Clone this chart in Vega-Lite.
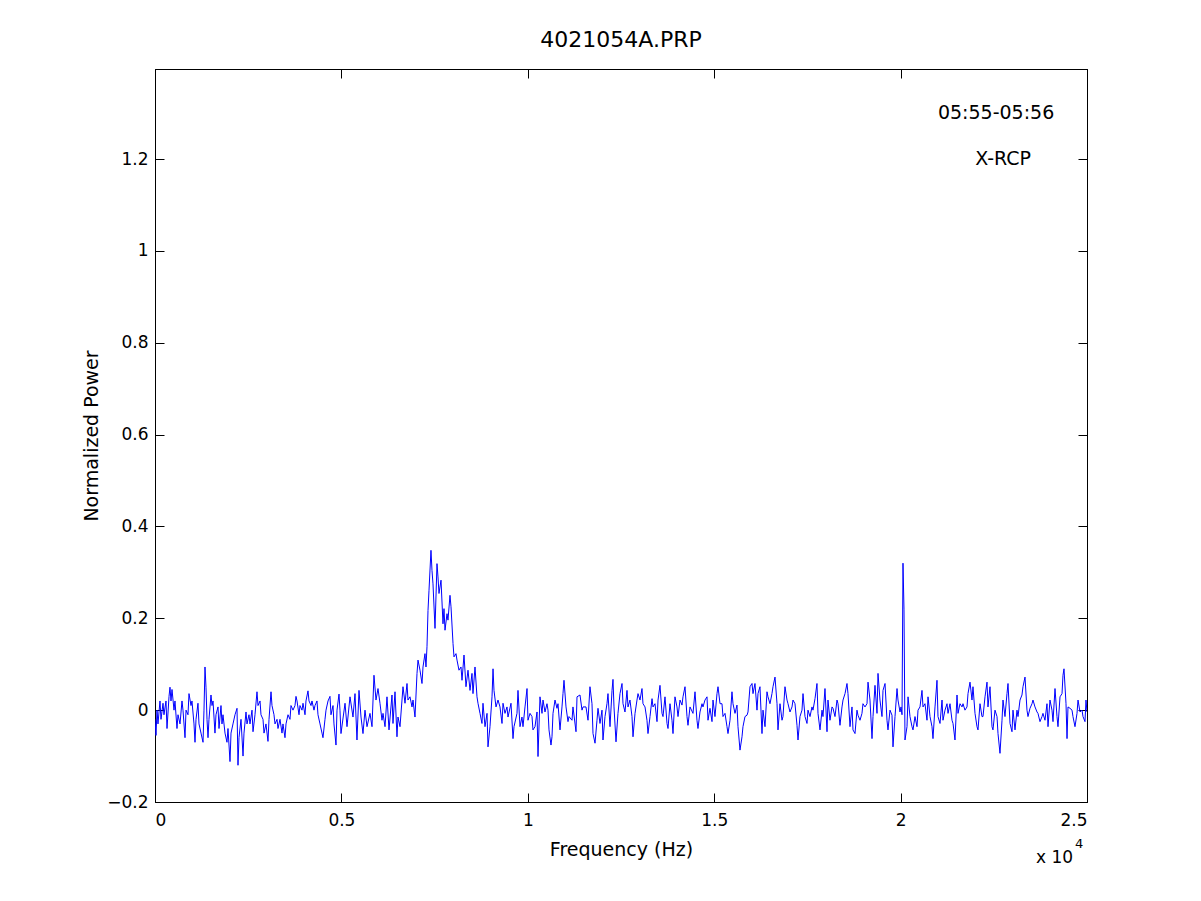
{
  "$schema": "https://vega.github.io/schema/vega-lite/v6.json",
  "autosize": "none",
  "width": 932,
  "height": 733,
  "padding": {"left": 155, "top": 69, "right": 114, "bottom": 99},
  "background": "white",
  "title": {"text": "4021054A.PRP", "fontSize": 22, "fontWeight": "normal", "font": "DejaVu Sans", "color": "black", "offset": 17},
  "layer": [
    {
      "data": {"values": [
        {"f":0,"p":-0.02},{"f":27,"p":-0.055},{"f":54,"p":0.0},{"f":80,"p":-0.03},{"f":134,"p":0.02},{"f":161,"p":-0.02},{"f":215,"p":0.015},{"f":241,"p":-0.01},{"f":295,"p":0.02},{"f":322,"p":-0.04},
        {"f":376,"p":0.03},{"f":402,"p":0.05},{"f":429,"p":0.02},{"f":456,"p":0.045},{"f":510,"p":0.0},{"f":536,"p":0.02},{"f":590,"p":-0.04},{"f":617,"p":-0.01},{"f":671,"p":-0.03},{"f":724,"p":0.02},
        {"f":751,"p":0.0},{"f":805,"p":-0.06},{"f":832,"p":0.0},{"f":885,"p":-0.01},{"f":912,"p":0.036},{"f":966,"p":0.01},{"f":992,"p":0.02},{"f":1046,"p":-0.03},{"f":1073,"p":-0.07},{"f":1100,"p":-0.02},
        {"f":1153,"p":0.015},{"f":1180,"p":-0.03},{"f":1234,"p":-0.05},{"f":1288,"p":-0.07},{"f":1314,"p":0.0},{"f":1341,"p":0.094},{"f":1368,"p":0.05},{"f":1395,"p":-0.02},{"f":1422,"p":-0.06},{"f":1448,"p":-0.02},
        {"f":1502,"p":0.033},{"f":1529,"p":0.01},{"f":1556,"p":0.02},{"f":1609,"p":-0.05},{"f":1636,"p":-0.01},{"f":1690,"p":0.007},{"f":1717,"p":-0.04},{"f":1770,"p":0.01},{"f":1797,"p":-0.03},{"f":1824,"p":-0.01},
        {"f":1878,"p":-0.05},{"f":1931,"p":-0.07},{"f":1958,"p":-0.04},{"f":2012,"p":-0.112},{"f":2039,"p":-0.05},{"f":2092,"p":-0.03},{"f":2146,"p":-0.01},{"f":2200,"p":0.004},{"f":2226,"p":-0.12},{"f":2253,"p":-0.06},
        {"f":2307,"p":-0.02},{"f":2361,"p":-0.1},{"f":2387,"p":-0.05},{"f":2441,"p":-0.004},{"f":2468,"p":-0.03},{"f":2521,"p":-0.01},{"f":2548,"p":-0.03},{"f":2602,"p":0.0},{"f":2629,"p":-0.047},{"f":2682,"p":-0.01},
        {"f":2736,"p":0.04},{"f":2763,"p":0.01},{"f":2817,"p":0.02},{"f":2843,"p":-0.01},{"f":2897,"p":-0.02},{"f":2924,"p":-0.05},{"f":2977,"p":-0.03},{"f":3031,"p":-0.068},{"f":3058,"p":-0.02},{"f":3112,"p":0.04},
        {"f":3138,"p":0.01},{"f":3192,"p":-0.01},{"f":3219,"p":-0.03},{"f":3273,"p":-0.02},{"f":3299,"p":-0.04},{"f":3353,"p":-0.02},{"f":3407,"p":-0.05},{"f":3433,"p":-0.03},{"f":3487,"p":-0.06},{"f":3514,"p":-0.03},
        {"f":3568,"p":-0.01},{"f":3621,"p":-0.02},{"f":3648,"p":0.01},{"f":3702,"p":0.0},{"f":3755,"p":0.01},{"f":3782,"p":0.03},{"f":3809,"p":0.02},{"f":3863,"p":-0.01},{"f":3889,"p":0.01},{"f":3943,"p":0.0},
        {"f":3970,"p":0.015},{"f":4024,"p":-0.01},{"f":4050,"p":0.02},{"f":4104,"p":0.042},{"f":4131,"p":0.02},{"f":4185,"p":0.01},{"f":4211,"p":0.02},{"f":4265,"p":0.0},{"f":4292,"p":0.01},{"f":4345,"p":0.02},
        {"f":4372,"p":-0.01},{"f":4426,"p":-0.03},{"f":4480,"p":-0.05},{"f":4506,"p":-0.06},{"f":4560,"p":-0.02},{"f":4587,"p":0.0},{"f":4641,"p":0.02},{"f":4694,"p":0.03},{"f":4721,"p":-0.01},{"f":4775,"p":0.01},
        {"f":4801,"p":-0.03},{"f":4855,"p":-0.076},{"f":4882,"p":0.0},{"f":4936,"p":0.035},
        {"f":4962,"p":0.0},{"f":4989,"p":-0.051},{"f":5097,"p":0.015},{"f":5150,"p":-0.036},{"f":5231,"p":0.029},{"f":5311,"p":-0.015},{"f":5365,"p":0.036},{"f":5418,"p":-0.065},{"f":5472,"p":0.043},{"f":5526,"p":-0.015},
        {"f":5579,"p":-0.051},{"f":5633,"p":0.0},{"f":5687,"p":-0.036},{"f":5767,"p":-0.007},{"f":5821,"p":-0.036},{"f":5874,"p":0.076},{"f":5928,"p":0.022},{"f":5982,"p":0.047},{"f":6035,"p":0.015},{"f":6089,"p":-0.022},
        {"f":6116,"p":-0.007},{"f":6170,"p":-0.036},{"f":6223,"p":0.029},{"f":6277,"p":-0.043},{"f":6357,"p":0.033},{"f":6384,"p":-0.029},{"f":6438,"p":0.04},{"f":6491,"p":-0.058},{"f":6518,"p":-0.015},{"f":6572,"p":-0.036},
        {"f":6652,"p":0.051},{"f":6706,"p":0.015},{"f":6760,"p":0.058},{"f":6786,"p":0.022},{"f":6840,"p":0.029},{"f":6894,"p":0.007},{"f":6921,"p":0.022},{"f":6974,"p":-0.015},{"f":7028,"p":0.08},{"f":7055,"p":0.109},
        {"f":7108,"p":0.087},{"f":7162,"p":0.058},{"f":7189,"p":0.094},{"f":7242,"p":0.123},{"f":7269,"p":0.094},{"f":7296,"p":0.138},{"f":7323,"p":0.217},{"f":7350,"p":0.261},{"f":7403,"p":0.348},{"f":7430,"p":0.304},
        {"f":7457,"p":0.275},{"f":7511,"p":0.178},{"f":7564,"p":0.319},{"f":7591,"p":0.29},{"f":7618,"p":0.254},{"f":7672,"p":0.283},{"f":7725,"p":0.188},{"f":7752,"p":0.221},{"f":7779,"p":0.174},{"f":7833,"p":0.21},
        {"f":7859,"p":0.196},{"f":7913,"p":0.25},{"f":7940,"p":0.225},{"f":7994,"p":0.145},{"f":8020,"p":0.116},{"f":8074,"p":0.123},{"f":8101,"p":0.109},{"f":8154,"p":0.087},{"f":8208,"p":0.094},{"f":8235,"p":0.065},
        {"f":8289,"p":0.12},{"f":8342,"p":0.051},{"f":8396,"p":0.087},{"f":8450,"p":0.043},{"f":8503,"p":0.08},{"f":8530,"p":0.036},{"f":8584,"p":0.094},{"f":8637,"p":0.029},{"f":8664,"p":0.015},{"f":8718,"p":-0.007},
        {"f":8771,"p":-0.029},{"f":8798,"p":0.015},{"f":8852,"p":-0.036},{"f":8906,"p":-0.007},{"f":8932,"p":-0.08},{"f":8986,"p":-0.036},{"f":9040,"p":0.029},{"f":9067,"p":0.09},{"f":9093,"p":0.043},{"f":9147,"p":0.007},
        {"f":9201,"p":0.022},{"f":9254,"p":0.007},{"f":9308,"p":-0.029},{"f":9335,"p":0.015},{"f":9388,"p":-0.007},{"f":9442,"p":0.007},{"f":9469,"p":-0.015},{"f":9549,"p":0.015},{"f":9603,"p":-0.062},{"f":9630,"p":-0.036},
        {"f":9710,"p":-0.007},{"f":9737,"p":0.043},{"f":9791,"p":-0.036},{"f":9844,"p":-0.015},{"f":9871,"p":-0.036},{"f":9925,"p":0.007},{"f":9979,"p":0.047},{"f":10005,"p":-0.022},
        {"f":10059,"p":-0.007},{"f":10113,"p":-0.014},{"f":10139,"p":-0.043},{"f":10193,"p":-0.036},{"f":10247,"p":-0.004},{"f":10274,"p":-0.101},{"f":10327,"p":0.029},{"f":10381,"p":-0.007},{"f":10408,"p":0.022},{"f":10461,"p":-0.004},
        {"f":10515,"p":0.014},{"f":10542,"p":0.0},{"f":10569,"p":-0.043},{"f":10622,"p":-0.076},{"f":10649,"p":-0.058},{"f":10676,"p":-0.007},{"f":10730,"p":0.022},{"f":10783,"p":0.004},{"f":10810,"p":0.014},{"f":10864,"p":-0.043},
        {"f":10917,"p":0.007},{"f":10944,"p":0.036},{"f":10971,"p":0.065},{"f":11025,"p":0.007},{"f":11078,"p":-0.025},{"f":11105,"p":-0.014},{"f":11186,"p":-0.022},{"f":11212,"p":0.007},{"f":11293,"p":-0.047},{"f":11320,"p":0.029},
        {"f":11400,"p":0.033},{"f":11454,"p":0.0},{"f":11481,"p":0.007},{"f":11561,"p":0.007},{"f":11615,"p":-0.022},{"f":11668,"p":0.051},{"f":11722,"p":0.014},{"f":11749,"p":-0.051},{"f":11803,"p":-0.072},{"f":11856,"p":-0.022},
        {"f":11883,"p":0.004},{"f":11937,"p":-0.029},{"f":11990,"p":0.0},{"f":12017,"p":-0.065},{"f":12071,"p":-0.014},{"f":12124,"p":0.014},{"f":12151,"p":0.036},{"f":12205,"p":-0.036},{"f":12259,"p":0.043},{"f":12285,"p":0.067},
        {"f":12312,"p":0.007},{"f":12366,"p":-0.069},{"f":12419,"p":-0.007},{"f":12473,"p":0.036},{"f":12527,"p":0.058},{"f":12554,"p":0.014},{"f":12607,"p":-0.004},{"f":12661,"p":0.043},{"f":12688,"p":0.007},{"f":12741,"p":0.022},
        {"f":12795,"p":-0.014},{"f":12822,"p":-0.058},{"f":12876,"p":-0.007},{"f":12929,"p":0.022},{"f":12956,"p":0.036},{"f":13010,"p":0.022},{"f":13063,"p":0.047},{"f":13090,"p":0.014},{"f":13144,"p":0.007},{"f":13197,"p":-0.022},
        {"f":13224,"p":-0.051},{"f":13278,"p":-0.014},{"f":13332,"p":0.025},{"f":13358,"p":0.007},{"f":13412,"p":0.014},{"f":13466,"p":-0.025},{"f":13493,"p":0.022},{"f":13546,"p":0.054},{"f":13600,"p":-0.007},{"f":13627,"p":-0.014},
        {"f":13680,"p":0.029},{"f":13734,"p":-0.029},{"f":13761,"p":-0.04},{"f":13814,"p":0.014},{"f":13868,"p":-0.022},{"f":13895,"p":-0.051},{"f":13948,"p":0.029},{"f":14002,"p":0.007},{"f":14029,"p":-0.014},{"f":14083,"p":0.022},
        {"f":14136,"p":0.011},{"f":14163,"p":0.029},{"f":14217,"p":0.051},{"f":14270,"p":-0.014},{"f":14297,"p":-0.033},{"f":14351,"p":0.007},{"f":14431,"p":-0.007},{"f":14485,"p":0.04},{"f":14538,"p":-0.022},{"f":14565,"p":-0.04},
        {"f":14619,"p":-0.004},{"f":14673,"p":0.014},{"f":14699,"p":0.007},{"f":14753,"p":0.022},{"f":14807,"p":0.029},{"f":14834,"p":-0.022},{"f":14887,"p":0.004},{"f":14941,"p":-0.025},{"f":14968,"p":0.022},{"f":15021,"p":-0.014},
        {"f":15075,"p":0.036},{"f":15102,"p":0.051},{"f":15156,"p":0.014},
        {"f":15209,"p":0.014},{"f":15236,"p":-0.014},{"f":15290,"p":-0.007},{"f":15343,"p":-0.036},{"f":15370,"p":-0.051},{"f":15424,"p":-0.022},{"f":15477,"p":0.04},{"f":15504,"p":0.014},{"f":15558,"p":-0.007},{"f":15611,"p":0.011},
        {"f":15638,"p":-0.036},{"f":15692,"p":-0.087},{"f":15746,"p":-0.058},{"f":15772,"p":-0.036},{"f":15826,"p":-0.014},{"f":15880,"p":-0.011},{"f":15907,"p":-0.004},{"f":15960,"p":0.051},{"f":16014,"p":0.058},{"f":16041,"p":0.036},
        {"f":16094,"p":0.058},{"f":16148,"p":0.0},{"f":16175,"p":0.036},{"f":16228,"p":0.051},{"f":16282,"p":-0.051},{"f":16309,"p":0.0},{"f":16363,"p":-0.036},{"f":16416,"p":0.04},{"f":16443,"p":0.029},{"f":16497,"p":0.014},
        {"f":16550,"p":0.036},{"f":16577,"p":0.051},{"f":16631,"p":0.072},{"f":16685,"p":0.014},{"f":16711,"p":-0.043},{"f":16765,"p":0.014},{"f":16819,"p":-0.022},{"f":16845,"p":-0.014},{"f":16899,"p":0.051},{"f":16953,"p":0.022},
        {"f":16980,"p":0.014},{"f":17033,"p":-0.004},{"f":17087,"p":0.007},{"f":17114,"p":0.022},{"f":17167,"p":0.014},{"f":17221,"p":-0.033},{"f":17248,"p":-0.065},{"f":17301,"p":-0.014},{"f":17355,"p":0.0},{"f":17382,"p":0.036},
        {"f":17436,"p":-0.014},{"f":17489,"p":-0.029},{"f":17516,"p":0.0},{"f":17570,"p":-0.014},{"f":17623,"p":0.007},{"f":17650,"p":0.0},{"f":17704,"p":0.025},{"f":17757,"p":0.058},{"f":17784,"p":-0.007},{"f":17838,"p":-0.043},
        {"f":17892,"p":0.0},{"f":17918,"p":-0.014},{"f":17972,"p":0.047},{"f":18026,"p":-0.047},{"f":18052,"p":0.022},{"f":18106,"p":-0.022},{"f":18160,"p":0.007},{"f":18187,"p":0.004},{"f":18240,"p":-0.014},{"f":18294,"p":0.022},
        {"f":18321,"p":0.014},{"f":18374,"p":-0.033},{"f":18428,"p":0.007},{"f":18455,"p":0.022},{"f":18509,"p":0.036},{"f":18562,"p":0.058},{"f":18589,"p":0.036},{"f":18643,"p":-0.036},{"f":18696,"p":0.007},{"f":18723,"p":-0.043},
        {"f":18777,"p":-0.051},{"f":18830,"p":0.0},{"f":18857,"p":-0.011},{"f":18911,"p":-0.022},{"f":18964,"p":-0.007},{"f":18991,"p":0.014},{"f":19045,"p":0.007},{"f":19099,"p":0.014},{"f":19126,"p":0.061},{"f":19179,"p":0.022},
        {"f":19233,"p":-0.062},{"f":19260,"p":-0.014},{"f":19313,"p":0.054},{"f":19367,"p":-0.007},{"f":19394,"p":0.08},{"f":19447,"p":0.022},{"f":19501,"p":-0.014},{"f":19528,"p":0.043},{"f":19582,"p":0.058},{"f":19635,"p":-0.022},
        {"f":19662,"p":-0.043},{"f":19716,"p":0.0},{"f":19769,"p":-0.011},{"f":19796,"p":-0.08},{"f":19850,"p":-0.014},{"f":19904,"p":0.047},{"f":19930,"p":0.022},{"f":19984,"p":-0.004},{"f":20011,"p":0.007},{"f":20038,"p":-0.01},
        {"f":20064,"p":0.32},{"f":20091,"p":0.22},{"f":20118,"p":-0.065},
        {"f":20172,"p":-0.036},{"f":20199,"p":0.029},{"f":20252,"p":-0.014},{"f":20306,"p":-0.036},{"f":20333,"p":-0.043},{"f":20386,"p":-0.014},{"f":20440,"p":-0.036},{"f":20467,"p":0.0},{"f":20520,"p":0.007},{"f":20574,"p":0.043},
        {"f":20601,"p":0.007},{"f":20654,"p":0.014},{"f":20708,"p":-0.022},{"f":20735,"p":0.029},{"f":20789,"p":-0.014},{"f":20842,"p":-0.036},{"f":20869,"p":-0.062},{"f":20923,"p":0.007},{"f":20976,"p":0.065},{"f":21003,"p":-0.014},
        {"f":21057,"p":-0.029},{"f":21111,"p":0.022},{"f":21137,"p":-0.022},{"f":21191,"p":0.0},{"f":21245,"p":0.014},{"f":21272,"p":-0.007},{"f":21325,"p":0.014},{"f":21379,"p":-0.022},{"f":21406,"p":-0.029},{"f":21459,"p":-0.065},
        {"f":21513,"p":0.033},{"f":21540,"p":-0.007},{"f":21593,"p":0.014},{"f":21647,"p":0.007},{"f":21674,"p":0.014},{"f":21727,"p":0.0},{"f":21781,"p":0.007},{"f":21808,"p":0.036},{"f":21862,"p":0.061},{"f":21915,"p":0.022},
        {"f":21942,"p":0.051},{"f":21996,"p":-0.007},{"f":22049,"p":-0.036},{"f":22076,"p":-0.043},{"f":22130,"p":0.014},{"f":22183,"p":-0.014},{"f":22210,"p":-0.014},{"f":22264,"p":0.029},{"f":22318,"p":0.061},{"f":22344,"p":0.007},
        {"f":22398,"p":0.051},{"f":22452,"p":-0.036},{"f":22478,"p":-0.043},{"f":22532,"p":0.0},{"f":22586,"p":-0.014},{"f":22613,"p":-0.051},{"f":22666,"p":-0.094},{"f":22720,"p":-0.022},{"f":22747,"p":0.022},{"f":22800,"p":-0.014},
        {"f":22854,"p":0.036},{"f":22881,"p":0.058},{"f":22935,"p":-0.029},{"f":22988,"p":-0.047},{"f":23015,"p":0.0},{"f":23069,"p":-0.043},{"f":23122,"p":0.0},{"f":23149,"p":-0.014},{"f":23203,"p":0.022},{"f":23256,"p":0.033},
        {"f":23283,"p":0.051},{"f":23337,"p":0.072},{"f":23390,"p":0.0},{"f":23417,"p":-0.014},{"f":23471,"p":0.004},{"f":23525,"p":0.014},{"f":23551,"p":0.022},{"f":23605,"p":0.007},{"f":23659,"p":-0.004},{"f":23685,"p":-0.007},
        {"f":23739,"p":-0.025},{"f":23793,"p":-0.014},{"f":23819,"p":-0.007},{"f":23873,"p":-0.022},{"f":23927,"p":0.014},{"f":23954,"p":-0.036},{"f":24007,"p":0.022},{"f":24061,"p":0.0},{"f":24088,"p":-0.025},{"f":24142,"p":0.047},
        {"f":24195,"p":-0.014},{"f":24222,"p":-0.036},{"f":24276,"p":0.029},{"f":24330,"p":0.036},{"f":24356,"p":0.076},{"f":24383,"p":0.09},{"f":24437,"p":0.014},{"f":24464,"p":-0.062},{"f":24490,"p":0.007},{"f":24544,"p":0.004},
        {"f":24598,"p":0.0},{"f":24624,"p":-0.014},{"f":24678,"p":-0.036},{"f":24732,"p":-0.007},{"f":24759,"p":0.022},{"f":24812,"p":-0.004},{"f":24866,"p":0.0},{"f":24893,"p":-0.014},{"f":24946,"p":-0.025},{"f":24973,"p":0.022},
        {"f":25000,"p":-0.004}
      ]},
      "mark": {"type": "line", "color": "#0000ff", "strokeWidth": 1, "clip": true},
      "encoding": {
        "x": {
          "field": "f", "type": "quantitative",
          "scale": {"domain": [0, 25000], "nice": false, "zero": false},
          "axis": {"orient": "bottom", "title": "Frequency (Hz)", "values": [0, 5000, 10000, 15000, 20000, 25000], "labelExpr": "format(datum.value / 10000, '~g')", "labelPadding": 19, "titlePadding": 12}
        },
        "y": {
          "field": "p", "type": "quantitative",
          "scale": {"domain": [-0.2, 1.396], "nice": false, "zero": false},
          "axis": {"orient": "left", "title": "Normalized Power", "values": [-0.2, 0, 0.2, 0.4, 0.6, 0.8, 1, 1.2], "format": "~g", "labelPadding": 16, "titlePadding": 5}
        }
      }
    },
    {
      "data": {"values": [
        {"f": 21000, "p": 1.3, "t": "05:55-05:56"},
        {"f": 22000, "p": 1.2, "t": "X-RCP"}
      ]},
      "mark": {"type": "text", "align": "left", "baseline": "middle", "font": "DejaVu Sans", "fontSize": 19, "color": "black"},
      "encoding": {
        "x": {"field": "f", "type": "quantitative", "scale": {"domain": [0, 25000], "nice": false, "zero": false},
          "axis": {"orient": "top", "title": null, "labels": false, "values": [0, 5000, 10000, 15000, 20000, 25000]}},
        "y": {"field": "p", "type": "quantitative", "scale": {"domain": [-0.2, 1.396], "nice": false, "zero": false},
          "axis": {"orient": "right", "title": null, "labels": false, "values": [-0.2, 0, 0.2, 0.4, 0.6, 0.8, 1, 1.2]}},
        "text": {"field": "t"}
      }
    },
    {
      "data": {"values": [{"f": 23630, "p": -0.322, "t": "x 10"}]},
      "mark": {"type": "text", "align": "left", "baseline": "middle", "font": "DejaVu Sans", "fontSize": 17, "color": "black"},
      "encoding": {
        "x": {"field": "f", "type": "quantitative", "axis": null},
        "y": {"field": "p", "type": "quantitative", "axis": null},
        "text": {"field": "t"}
      }
    },
    {
      "data": {"values": [{"f": 24680, "p": -0.292, "t": "4"}]},
      "mark": {"type": "text", "align": "left", "baseline": "middle", "font": "DejaVu Sans", "fontSize": 13, "color": "black"},
      "encoding": {
        "x": {"field": "f", "type": "quantitative", "axis": null},
        "y": {"field": "p", "type": "quantitative", "axis": null},
        "text": {"field": "t"}
      }
    }
  ],
  "resolve": {"axis": {"x": "independent", "y": "independent"}},
  "config": {
    "view": {"stroke": "black", "strokeWidth": 1},
    "font": "DejaVu Sans",
    "axis": {
      "grid": false,
      "domainColor": "black",
      "domainWidth": 1,
      "tickColor": "black",
      "tickWidth": 1,
      "tickSize": -9,
      "labelColor": "black",
      "labelFont": "DejaVu Sans",
      "labelFontSize": 17,
      "titleColor": "black",
      "titleFont": "DejaVu Sans",
      "titleFontSize": 19,
      "titleFontWeight": "normal"
    }
  }
}
